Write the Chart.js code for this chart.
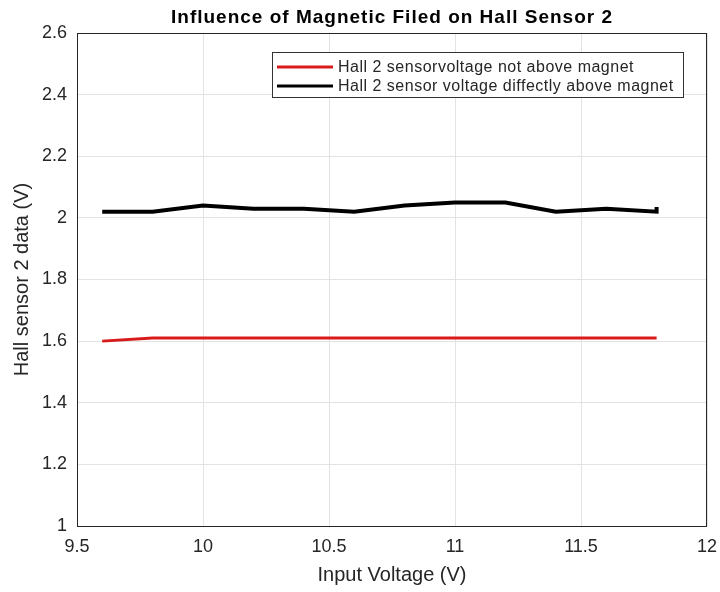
<!DOCTYPE html>
<html>
<head>
<meta charset="utf-8">
<script src="https://cdn.jsdelivr.net/npm/chart.js@4"></script>
<style>
  html, body { margin: 0; padding: 0; background: #fff; }
  #wrap { width: 720px; height: 592px; }
</style>
</head>
<body>
<div id="wrap"><canvas id="hallChart" width="720" height="592"></canvas></div>
<script>
// input voltage (V)
const inputVoltage = [9.6, 9.8, 10.0, 10.2, 10.4, 10.6, 10.8, 11.0, 11.2, 11.4, 11.6, 11.8, 11.8];
// hall sensor 2 reading, not above the magnet
const notAboveMagnet = [1.60, 1.61, 1.61, 1.61, 1.61, 1.61, 1.61, 1.61, 1.61, 1.61, 1.61, 1.61, 1.61];
// hall sensor 2 reading, directly above the magnet
const aboveMagnet = [2.02, 2.02, 2.04, 2.03, 2.03, 2.02, 2.04, 2.05, 2.05, 2.02, 2.03, 2.02, 2.035];

const xTicks = [9.5, 10, 10.5, 11, 11.5, 12];
const yTicks = [1, 1.2, 1.4, 1.6, 1.8, 2, 2.2, 2.4, 2.6];

const seriesNames = [
    'Hall 2 sensorvoltage not above magnet',
    'Hall 2 sensor voltage diffectly above magnet'
];
const seriesColors = ['#d91a1a', '#000000'];

const FONT = '"Liberation Sans", Arial, sans-serif';
const TEXT = '#262626';

function toPoints(ys) {
    return inputVoltage.map((x, i) => ({ x: x, y: ys[i] }));
}

function fmt(v) {
    return String(Number(v.toFixed(1)));
}

// title, box and the legend inside the axes, drawn like matlab does
const matlabBits = {
    id: 'matlabBits',
    afterDraw(chart) {
        const ctx = chart.ctx;
        const a = chart.chartArea;
        ctx.save();

        // axes box
        ctx.strokeStyle = TEXT;
        ctx.lineWidth = 1;
        ctx.strokeRect(a.left + 0.5, a.top + 0.5, a.right - a.left - 1, a.bottom - a.top);

        // title
        ctx.fillStyle = '#000';
        ctx.font = 'bold 19px ' + FONT;
        ctx.letterSpacing = '1px';
        ctx.textAlign = 'center';
        ctx.textBaseline = 'middle';
        ctx.fillText('Influence of Magnetic Filed on Hall Sensor 2', (a.left + a.right) / 2, 18);

        // legend
        const bw = 411, bh = 45;
        const bx = a.right - 24 - bw, by = a.top + 19;
        ctx.fillStyle = '#fff';
        ctx.fillRect(bx, by, bw, bh);
        ctx.strokeStyle = '#333';
        ctx.strokeRect(bx + 0.5, by + 0.5, bw, bh);
        ctx.font = '16px ' + FONT;
        ctx.letterSpacing = '0.5px';
        ctx.textAlign = 'left';
        seriesNames.forEach((name, i) => {
            const ry = by + 15 + i * 19;
            ctx.strokeStyle = seriesColors[i];
            ctx.lineWidth = 3;
            ctx.beginPath();
            ctx.moveTo(bx + 5, ry);
            ctx.lineTo(bx + 61, ry);
            ctx.stroke();
            ctx.fillStyle = TEXT;
            ctx.fillText(name, bx + 66, ry + 1);
        });
        ctx.restore();
    }
};

const ctx = document.getElementById('hallChart').getContext('2d');
new Chart(ctx, {
    type: 'scatter',
    data: {
        datasets: [
            {
                label: seriesNames[0],
                data: toPoints(notAboveMagnet),
                showLine: true,
                borderColor: seriesColors[0],
                borderWidth: 3,
                pointRadius: 0,
                tension: 0
            },
            {
                label: seriesNames[1],
                data: toPoints(aboveMagnet),
                showLine: true,
                borderColor: seriesColors[1],
                borderWidth: 4,
                pointRadius: 0,
                tension: 0
            }
        ]
    },
    options: {
        responsive: false,
        animation: false,
        layout: { padding: { top: 33, right: 13, left: 0, bottom: 0 } },
        plugins: {
            legend: { display: false },
            title: { display: false },
            tooltip: { enabled: false }
        },
        scales: {
            x: {
                type: 'linear',
                min: 9.5,
                max: 12,
                afterBuildTicks: s => { s.ticks = xTicks.map(v => ({ value: v })); },
                afterFit: s => { s.height = 66; s.paddingLeft = 0; s.paddingRight = 0; },
                grid: { color: '#e3e3e3', drawTicks: false },
                border: { display: false },
                ticks: {
                    color: TEXT,
                    font: { family: FONT, size: 18 },
                    padding: 10,
                    maxRotation: 0,
                    callback: v => fmt(v)
                },
                title: {
                    display: true,
                    text: 'Input Voltage (V)',
                    color: TEXT,
                    font: { family: FONT, size: 20 },
                    padding: { top: 0, bottom: 5 }
                }
            },
            y: {
                min: 1,
                max: 2.6,
                afterBuildTicks: s => { s.ticks = yTicks.map(v => ({ value: v })); },
                afterFit: s => { s.width = 77; s.paddingTop = 0; s.paddingBottom = 0; },
                grid: { color: '#e3e3e3', drawTicks: false },
                border: { display: false },
                ticks: {
                    color: TEXT,
                    font: { family: FONT, size: 18 },
                    padding: 10,
                    callback: v => fmt(v)
                },
                title: {
                    display: true,
                    text: 'Hall sensor 2 data (V)',
                    color: TEXT,
                    font: { family: FONT, size: 20 },
                    padding: { top: 10, bottom: 0 }
                }
            }
        }
    },
    plugins: [matlabBits]
});
</script>
</body>
</html>
